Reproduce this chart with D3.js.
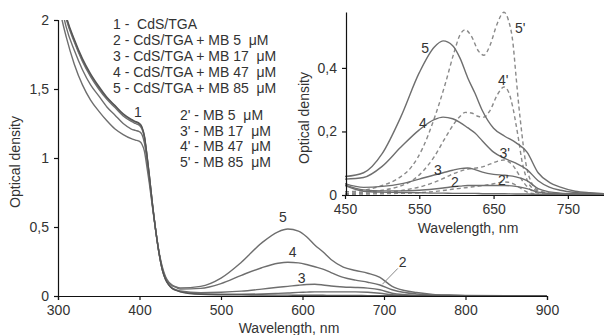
<!DOCTYPE html>
<html><head><meta charset="utf-8">
<script src="https://cdn.jsdelivr.net/npm/d3@7/dist/d3.min.js"></script>
<style>
body{margin:0;background:#fff;}
svg{display:block;font-family:"Liberation Sans",Arial,sans-serif;}
text{white-space:pre;}
</style></head>
<body><svg id="c" width="604" height="335"></svg>
<script>
// ---------- DATA ----------
// wavelength grid for CdS/TGA (+MB) spectra (nm)
const wl = [300,305,310,320,330,340,350,360,370,380,390,395,400,403,406,409,412,416,420,424,428,432,436,440,445,450,
            475,500,525,550,570,582,595,605,615,625,635,650,665,680,695,710,725,740,760,780,800,850,900];
const curve1 = [2.35,2.16,2.03,1.86,1.72,1.61,1.52,1.44,1.38,1.32,1.28,1.265,1.25,1.225,1.16,1.03,0.88,0.66,0.47,0.31,0.19,0.12,0.08,0.055,0.04,0.03,
            0.012,0.009,0.008,0.007,0.006,0.006,0.005,0.005,0.005,0.005,0.004,0.004,0.004,0.003,0.003,0.002,0.002,0.002,0.001,0.001,0.001,0.001,0.001];
const curve2 = [2.34,2.15,2.02,1.85,1.71,1.60,1.51,1.435,1.375,1.315,1.275,1.26,1.245,1.22,1.155,1.025,0.875,0.66,0.47,0.31,0.19,0.12,0.08,0.056,0.042,0.032,
            0.016,0.013,0.013,0.015,0.019,0.022,0.026,0.028,0.03,0.03,0.03,0.03,0.03,0.027,0.02,0.009,0.005,0.003,0.002,0.002,0.001,0.001,0.001];
const curve3 = [2.33,2.14,2.01,1.84,1.70,1.59,1.50,1.425,1.365,1.305,1.265,1.25,1.235,1.21,1.15,1.02,0.87,0.66,0.47,0.31,0.19,0.12,0.082,0.058,0.045,0.036,
            0.024,0.027,0.035,0.05,0.063,0.07,0.078,0.083,0.085,0.08,0.072,0.065,0.062,0.057,0.045,0.02,0.01,0.006,0.004,0.003,0.002,0.001,0.001];
const curve4 = [2.25,2.08,1.95,1.78,1.64,1.53,1.45,1.37,1.31,1.25,1.21,1.20,1.19,1.17,1.11,0.99,0.85,0.65,0.47,0.31,0.2,0.13,0.095,0.075,0.062,0.05,
            0.055,0.09,0.15,0.205,0.237,0.245,0.24,0.228,0.212,0.195,0.17,0.135,0.115,0.1,0.08,0.045,0.025,0.015,0.008,0.005,0.003,0.001,0.0];
const curve5 = [2.15,2.0,1.88,1.68,1.53,1.42,1.34,1.27,1.21,1.17,1.14,1.13,1.12,1.10,1.05,0.94,0.82,0.64,0.47,0.32,0.21,0.14,0.10,0.08,0.065,0.058,
            0.07,0.13,0.245,0.385,0.465,0.485,0.47,0.43,0.37,0.32,0.265,0.21,0.185,0.165,0.135,0.07,0.04,0.025,0.012,0.007,0.004,0.002,0.001];
// MB alone (dashed, inset)
const wlMB = [450,475,500,520,540,555,570,585,597,605,612,620,630,637,645,655,664,670,676,680,684,688,692,699,710,730,800];
const mb5  = [0.002,0.003,0.004,0.005,0.006,0.008,0.011,0.015,0.019,0.021,0.023,0.025,0.028,0.03,0.033,0.038,0.041,0.04,0.036,0.031,0.025,0.019,0.013,0.006,0.003,0.001,0];
const mb17 = [0.003,0.005,0.008,0.012,0.02,0.028,0.04,0.055,0.068,0.075,0.08,0.083,0.086,0.09,0.097,0.106,0.11,0.105,0.093,0.08,0.064,0.048,0.035,0.018,0.006,0.002,0];
const mb47 = [0.005,0.009,0.015,0.025,0.045,0.075,0.12,0.18,0.225,0.248,0.26,0.258,0.247,0.245,0.265,0.315,0.34,0.325,0.275,0.225,0.17,0.11,0.07,0.03,0.012,0.004,0];
const mb85 = [0.01,0.015,0.03,0.05,0.09,0.15,0.24,0.35,0.45,0.505,0.52,0.5,0.452,0.44,0.47,0.54,0.575,0.55,0.48,0.38,0.28,0.195,0.12,0.05,0.015,0.005,0.002];

const mainXTicks = [300,400,500,600,700,800,900];
const mainYTicks = [0,0.5,1,1.5,2];
const insetXTicks = [450,550,650,750];
const insetYTicks = [0,0.2,0.4];
const legendA = ["1 -  CdS/TGA","2 - CdS/TGA + MB 5  \u03bcM","3 - CdS/TGA + MB 17  \u03bcM","4 - CdS/TGA + MB 47  \u03bcM","5 - CdS/TGA + MB 85  \u03bcM"];
const legendB = ["2' - MB 5  \u03bcM","3' - MB 17  \u03bcM","4' - MB 47  \u03bcM","5' - MB 85  \u03bcM"];
const mainLabels = [["1",398,1.33],["5",576,0.57],["4",588,0.32],["3",599,0.13],["2",723,0.25]];
const insetLabels = [["5",558,0.463],["4",555,0.227],["5'",686,0.526],["4'",663,0.362],["3'",665,0.132],["3",575,0.079],["2",598,0.041],["2'",663,0.047]];

// ---------- DRAW ----------
const svg = d3.select("#c");
const txt = "#333", lineCol = "#6e6e6e", dashCol = "#8a8a8a";
const fs = 14;

// main chart
const x = d3.scaleLinear().domain([300,900]).range([58,547]);
const y = d3.scaleLinear().domain([0,2]).range([296,20]);
svg.append("clipPath").attr("id","mclip").append("rect")
  .attr("x",58).attr("y",20).attr("width",489).attr("height",277);
const mLine = d3.line().x(d=>x(d[0])).y(d=>y(d[1])).curve(d3.curveMonotoneX);
const gm = svg.append("g").attr("clip-path","url(#mclip)");
[curve5,curve4,curve3,curve2,curve1].forEach((c,i)=>{
  gm.append("path").datum(wl.map((w,j)=>[w,c[j]]))
    .attr("d",mLine).attr("fill","none")
    .attr("stroke", i===4 ? "#555" : lineCol).attr("stroke-width",1.4);
});
const xAx = svg.append("g").attr("transform","translate(0,296)")
  .call(d3.axisBottom(x).tickValues(mainXTicks).tickSize(4).tickPadding(5));
const yAx = svg.append("g").attr("transform","translate(58,0)")
  .call(d3.axisLeft(y).tickValues(mainYTicks).tickSize(4).tickPadding(5)
    .tickFormat(d=>String(d).replace(".",",")));
[xAx,yAx].forEach(g=>{
  g.selectAll("path,line").attr("stroke","#111").attr("stroke-width",1.2);
  g.selectAll("text").attr("fill",txt).attr("font-size",fs).attr("font-family","Liberation Sans, Arial, sans-serif");
});
svg.append("text").attr("x",289).attr("y",333).attr("text-anchor","middle")
  .attr("font-size",fs).attr("fill",txt).text("Wavelength, nm");
svg.append("text").attr("transform","translate(20,162) rotate(-90)").attr("text-anchor","middle")
  .attr("font-size",fs).attr("fill",txt).text("Optical density");
mainLabels.forEach(l=>{
  svg.append("text").attr("x",x(l[1])).attr("y",y(l[2])+5).attr("text-anchor","middle")
    .attr("font-size",fs).attr("fill",txt).text(l[0]);
});
svg.append("line").attr("x1",x(717)).attr("y1",y(0.2)).attr("x2",x(698)).attr("y2",y(0.085))
  .attr("stroke","#888").attr("stroke-width",1);

// legend
legendA.forEach((t,i)=>{
  svg.append("text").attr("x",113).attr("y",29+i*16).attr("font-size",fs).attr("fill",txt).text(t);
});
legendB.forEach((t,i)=>{
  svg.append("text").attr("x",180).attr("y",120+i*15.7).attr("font-size",fs).attr("fill",txt).text(t);
});

// inset
const xi = d3.scaleLinear().domain([450,800]).range([345,605]);
const yi = d3.scaleLinear().domain([0,0.576]).range([195,12]);
svg.append("clipPath").attr("id","iclip").append("rect")
  .attr("x",345).attr("y",10).attr("width",260).attr("height",186);
const iLine = d3.line().x(d=>xi(d[0])).y(d=>yi(d[1])).curve(d3.curveMonotoneX);
const gi = svg.append("g").attr("clip-path","url(#iclip)");
[mb5,mb17,mb47,mb85].forEach(c=>{
  gi.append("path").datum(wlMB.map((w,j)=>[w,c[j]]))
    .attr("d",iLine).attr("fill","none").attr("stroke",dashCol)
    .attr("stroke-width",1.4).attr("stroke-dasharray","4,3");
});
[curve1,curve2,curve3,curve4,curve5].forEach(c=>{
  const pts = wl.map((w,j)=>[w,c[j]]).filter(p=>p[0]>=450);
  gi.append("path").datum(pts).attr("d",iLine).attr("fill","none")
    .attr("stroke",lineCol).attr("stroke-width",1.4);
});
const xiAx = svg.append("g").attr("transform","translate(0,195)")
  .call(d3.axisBottom(xi).tickValues(insetXTicks).tickSize(4).tickPadding(5).tickSizeOuter(0));
const yiAx = svg.append("g").attr("transform","translate(346,0)")
  .call(d3.axisLeft(yi).tickValues(insetYTicks).tickSize(4).tickPadding(5).tickSizeOuter(0)
    .tickFormat(d=>String(d).replace(".",",")));
[xiAx,yiAx].forEach(g=>{
  g.selectAll("path,line").attr("stroke","#111").attr("stroke-width",1.2);
  g.selectAll("text").attr("fill",txt).attr("font-size",fs).attr("font-family","Liberation Sans, Arial, sans-serif");
});
svg.append("text").attr("x",468).attr("y",233).attr("text-anchor","middle")
  .attr("font-size",fs).attr("fill",txt).text("Wavelength, nm");
svg.append("text").attr("transform","translate(309,118) rotate(-90)").attr("text-anchor","middle")
  .attr("font-size",fs).attr("fill",txt).text("Optical density");
insetLabels.forEach(l=>{
  svg.append("text").attr("x",xi(l[1])).attr("y",yi(l[2])+5).attr("text-anchor","middle")
    .attr("font-size",fs).attr("fill",txt).text(l[0]);
});
</script></body></html>
